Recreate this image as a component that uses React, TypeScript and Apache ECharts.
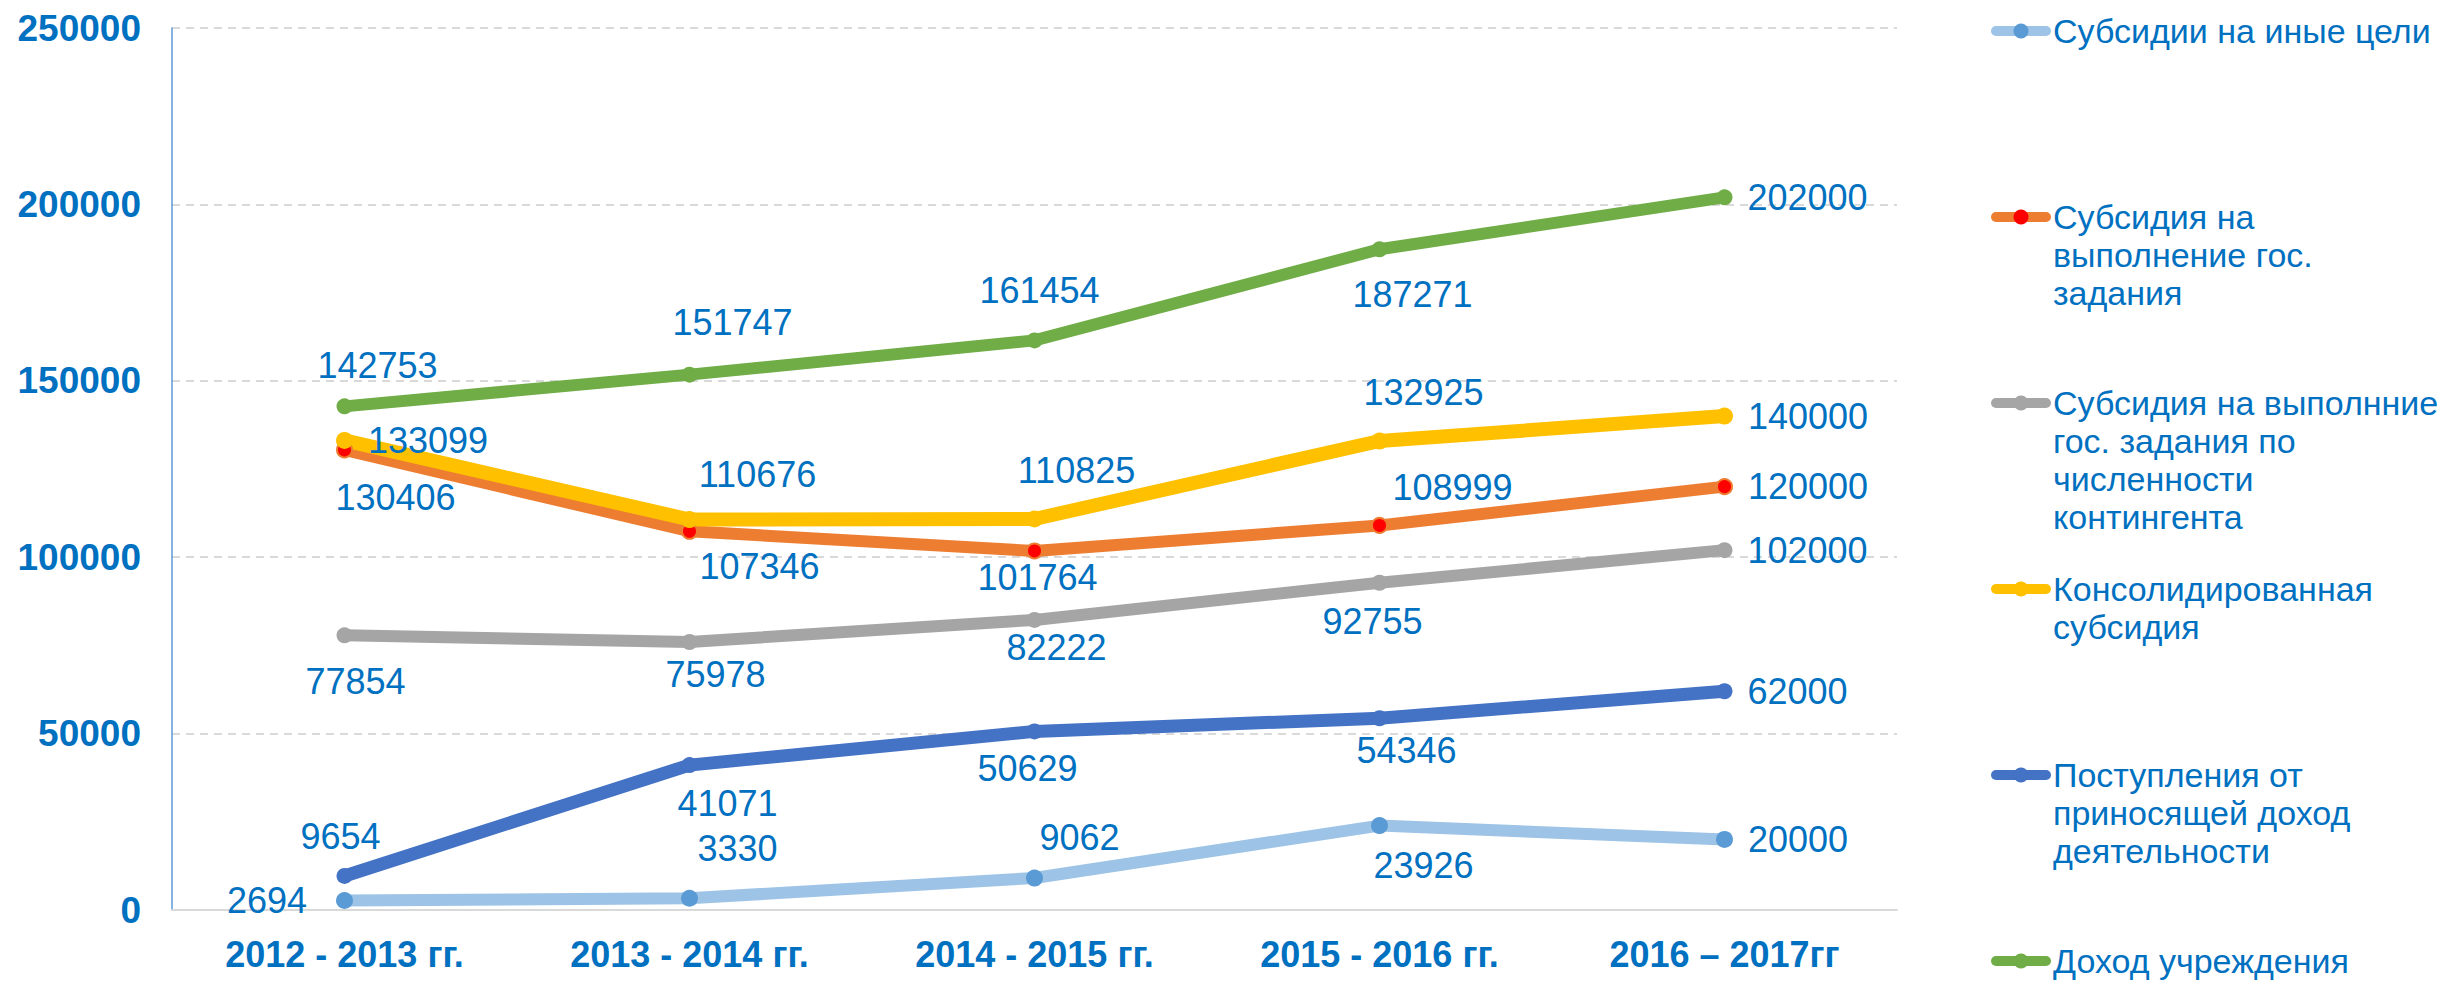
import React, { useEffect, useRef } from "react";
import * as echarts from "echarts";

const categories = ["2012 - 2013 гг.", "2013 - 2014 гг.", "2014 - 2015 гг.", "2015 - 2016 гг.", "2016 – 2017гг"];

const seriesNames = [
  "Субсидии на иные цели",
  "Субсидия на выполнение гос. задания",
  "Субсидия на выполнние гос. задания по численности контингента",
  "Консолидированная субсидия",
  "Поступления от приносящей доход деятельности",
  "Доход учреждения",
];

const legendTexts = [
  "Субсидии на иные цели",
  "Субсидия на\nвыполнение гос.\nзадания",
  "Субсидия на выполнние\nгос. задания по\nчисленности\nконтингента",
  "Консолидированная\nсубсидия",
  "Поступления от\nприносящей доход\nдеятельности",
  "Доход учреждения",
];

const otherGoals = [2694, 3330, 9062, 23926, 20000];
const stateTask = [130406, 107346, 101764, 108999, 120000];
const stateTaskContingent = [77854, 75978, 82222, 92755, 102000];
const consolidated = [133099, 110676, 110825, 132925, 140000];
const incomeActivity = [9654, 41071, 50629, 54346, 62000];
const institutionIncome = [142753, 151747, 161454, 187271, 202000];

const yTicks = { min: 0, max: 250000, interval: 50000 };

// label placement (style only)
type Pos = "left" | "right" | [number, number];
const labelPlacement: Pos[][] = [
  ["left", [48, -50], [45, -41], [44, 40], "right"],
  [[51, 48], [70, 35], [3, 27], [73, -38], "right"],
  [[11, 46], [26, 33], [22, 28], [-7, 39], "right"],
  ["right", [68, -45], [42, -49], [44, -49], "right"],
  [[-4, -39], [38, 38], [-7, 37], [27, 32], "right"],
  [[33, -41], [43, -52], [5, -50], [33, 45], "right"],
];

const lineColors = ["#9DC3E6", "#ED7D31", "#A5A5A5", "#FFC000", "#4472C4", "#70AD47"];
const markerColors = ["#5B9BD5", "#FF0000", "#A5A5A5", "#FFC000", "#4472C4", "#70AD47"];
const lineWidths = [12, 12, 12, 14, 13, 12];
const symbolSizes = [17, 15, 16, 17, 16, 16];

const FONT = "Liberation Sans";
const TEXT_COLOR = "#0070C0";

function labelFor(p: Pos) {
  if (p === "right") return { position: "right", distance: 15 };
  if (p === "left") return { position: "left", distance: 29 };
  return { position: "inside", offset: p, align: "center", verticalAlign: "middle" };
}

export default function App() {
  const ref = useRef<HTMLDivElement>(null);
  useEffect(() => {
    document.body.style.margin = "0";
    if (!ref.current) return;
    const chart = echarts.init(ref.current, null, { renderer: "svg" });
    const allData = [otherGoals, stateTask, stateTaskContingent, consolidated, incomeActivity, institutionIncome];

    const series = allData.map((vals, i) => ({
      name: seriesNames[i],
      type: "line",
      symbol: "circle",
      symbolSize: symbolSizes[i],
      lineStyle: { color: lineColors[i], width: lineWidths[i] },
      itemStyle: {
        color: markerColors[i],
        borderColor: i === 1 ? "#ED7D31" : markerColors[i],
        borderWidth: i === 1 ? 2 : 0,
      },
      label: { show: true, color: TEXT_COLOR, fontSize: 36, fontFamily: FONT },
      emphasis: { disabled: true },
      data: vals.map((v, j) => ({ value: v, label: labelFor(labelPlacement[i][j]) })),
    }));

    const legendGraphics: any[] = [];
    legendTexts.forEach((t, i) => {
      const y = 31 + 186 * i;
      legendGraphics.push({
        type: "line",
        shape: { x1: 1996, y1: y, x2: 2046, y2: y },
        style: { stroke: lineColors[i], lineWidth: 10, lineCap: "round" },
      });
      legendGraphics.push({
        type: "circle",
        shape: { cx: 2021, cy: y, r: 7.5 },
        style: { fill: markerColors[i] },
      });
      legendGraphics.push({
        type: "text",
        x: 2053,
        y: y - 19,
        style: {
          text: t,
          fill: TEXT_COLOR,
          fontSize: 34,
          fontFamily: FONT,
          lineHeight: 38,
          verticalAlign: "top",
          align: "left",
        },
      });
    });

    chart.setOption({
      animation: false,
      backgroundColor: "#ffffff",
      grid: { left: 172, right: 553, top: 28, bottom: 74, containLabel: false },
      xAxis: {
        type: "category",
        data: categories,
        boundaryGap: true,
        axisLine: { show: true, lineStyle: { color: "#D9D9D9", width: 2 } },
        axisTick: { show: false },
        axisLabel: {
          color: TEXT_COLOR,
          fontSize: 36,
          fontWeight: "bold",
          fontFamily: FONT,
          margin: 26,
          interval: 0,
        },
        splitLine: { show: false },
      },
      yAxis: {
        type: "value",
        min: yTicks.min,
        max: yTicks.max,
        interval: yTicks.interval,
        axisLine: { show: true, lineStyle: { color: "#5B9BD5", width: 1.5 } },
        axisTick: { show: false },
        axisLabel: {
          color: TEXT_COLOR,
          fontSize: 37,
          fontWeight: "bold",
          fontFamily: FONT,
          margin: 31,
          formatter: (v: number) => String(v),
        },
        splitLine: { show: true, lineStyle: { color: "#D9D9D9", width: 2, type: [8, 6] } },
      },
      series,
      graphic: legendGraphics,
    } as any);
    return () => chart.dispose();
  }, []);
  return <div ref={ref} style={{ width: 2450, height: 984 }} />;
}
